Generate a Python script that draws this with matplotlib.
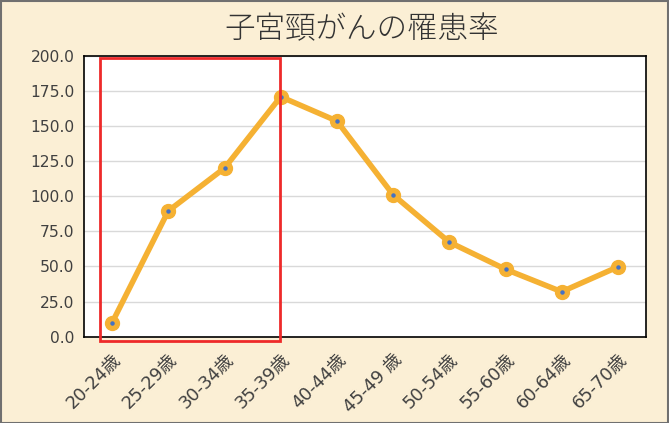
import matplotlib
matplotlib.use("Agg")
import matplotlib.pyplot as plt
import matplotlib.transforms as mtransforms
from matplotlib.patches import Rectangle

plt.rcParams['font.family'] = ['DejaVu Sans', 'Noto Sans CJK JP']

categories = ["20-24歳", "25-29歳", "30-34歳", "35-39歳", "40-44歳",
              "45-49 歳", "50-54歳", "55-60歳", "60-64歳", "65-70歳"]
values = [10.0, 89.5, 120.0, 170.8, 153.5, 101.0, 67.3, 48.0, 32.0, 49.7]
yticks = [0, 25, 50, 75, 100, 125, 150, 175, 200]
title = "子宮頸がんの罹患率"

bg = "#FBEFD5"
line_c = "#F5B133"

fig = plt.figure(figsize=(6.69, 4.23), dpi=100, facecolor=bg)
ax = fig.add_axes([84/669, 1-336.7/423, (646-84)/669, (336.7-55.7)/423])
ax.set_facecolor("white")

x = list(range(len(categories)))
ax.plot(x, values, color=line_c, lw=4, marker='o', ms=10, mfc=line_c, mec=line_c,
        solid_capstyle='round', zorder=3)
ax.plot(x, values, ls='none', marker='o', ms=2.2, color="#4472C4", zorder=4)

ax.set_xlim(-0.5, len(categories) - 0.5)
ax.set_ylim(0, 200)
ax.set_yticks(yticks)
ax.set_yticklabels([f"{v:.1f}" for v in yticks], fontsize=11.2, color="#404040")
ax.set_xticks(x)
ax.set_xticklabels(categories, rotation=45, ha='right', rotation_mode='anchor',
                   fontsize=12.8, color="#404040")
shift = mtransforms.ScaledTranslation(7/100, 0, fig.dpi_scale_trans)
for lab in ax.get_xticklabels():
    lab.set_transform(lab.get_transform() + shift)
ax.tick_params(axis='both', length=0)
ax.tick_params(axis='y', pad=7)
ax.tick_params(axis='x', pad=10)
ax.grid(axis='y', color="#D9D9D9", lw=1)
ax.set_axisbelow(True)
for s in ax.spines.values():
    s.set_color("black")
    s.set_linewidth(1.2)

# red highlight box around first four categories
rect = Rectangle((-0.21, -3.1), 3.2, 201.5, fill=False, edgecolor="#EE2A2A",
                 lw=2, clip_on=False, zorder=5)
ax.add_patch(rect)

fig.text(0.54, 1 - 29/423, title, ha='center', va='center', fontsize=22,
         color="#333333", fontweight='light', family=['Noto Sans CJK JP', 'DejaVu Sans'])

# outer figure border
border = Rectangle((0.5/669, 0), 1 - 2/669, 1 - 1.5/423, transform=fig.transFigure,
                   fill=False, edgecolor="#707070", lw=1.5)
fig.patches.append(border)

fig.savefig("out.png", dpi=100, facecolor=bg)
